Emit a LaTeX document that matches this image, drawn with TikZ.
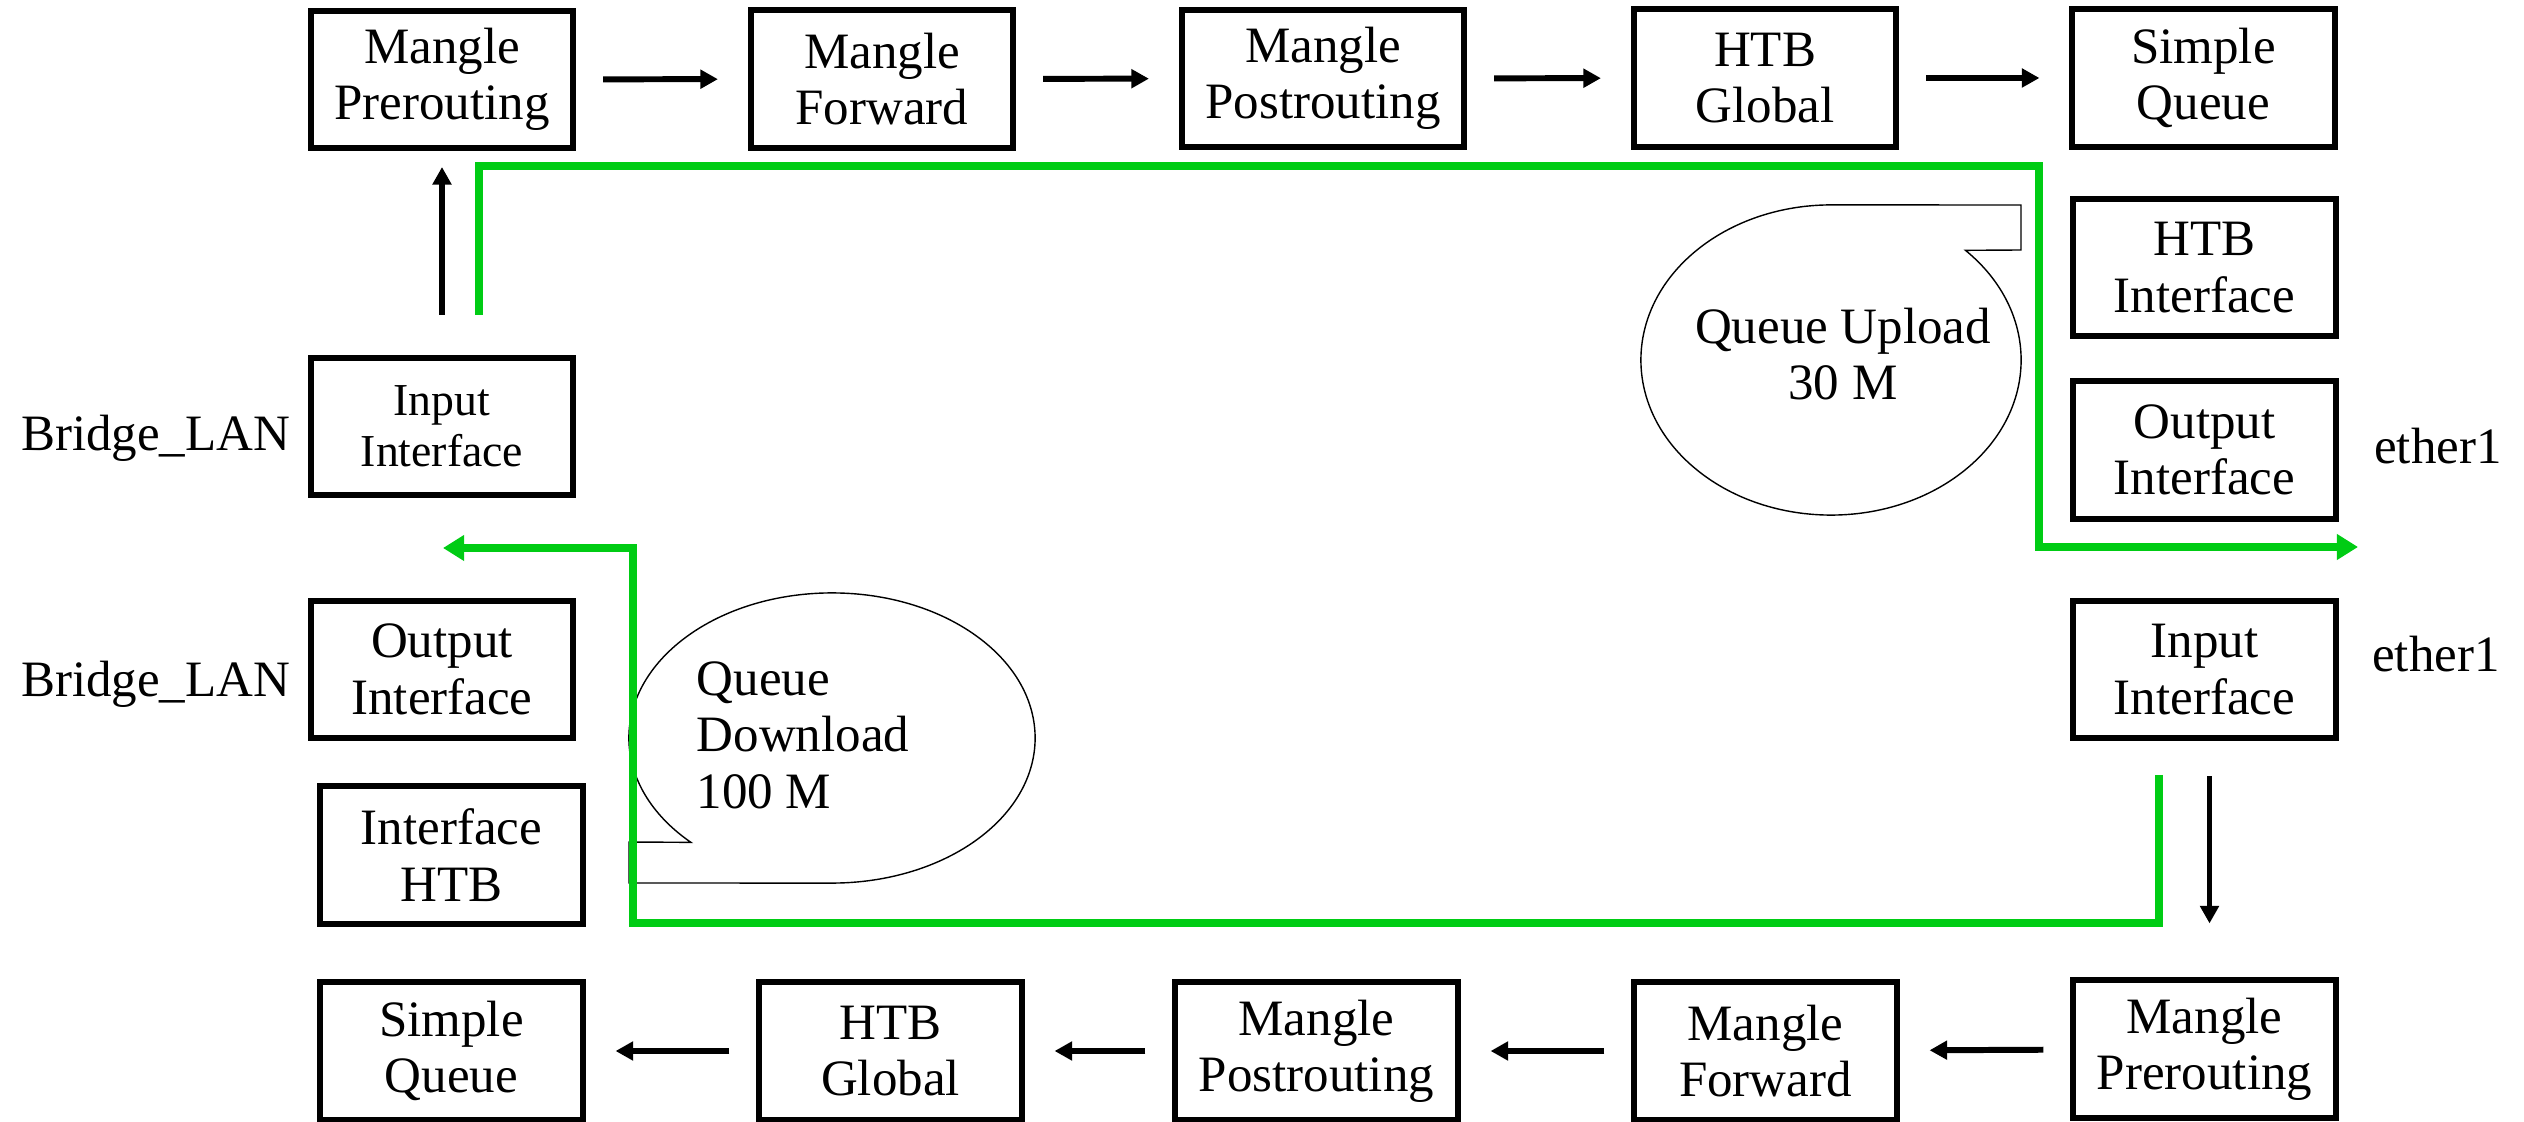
\documentclass[tikz,border=0pt]{standalone}
\usepackage{fontspec}
\setmainfont{Liberation Serif}
\usepackage{xcolor}
\usepackage{tikz}
\usetikzlibrary{arrows.meta,positioning}
\definecolor{flowGreen}{RGB}{0,204,20}

\begin{document}
\begin{tikzpicture}[x=0.01cm,y=0.01cm,font=\fontsize{14.5}{16}\selectfont,
  box/.style={draw, line width=1.7pt, align=center, minimum width=2.62cm, minimum height=1.37cm, inner sep=2pt},
  wbox/.style={box, minimum width=2.82cm},
  lbl/.style={inner sep=0pt},
  harr/.style={-{Triangle[length=5pt,width=5.2pt]}, line width=1.7pt, shorten <=0.27cm, shorten >=0.3cm},
  varr/.style={-{Triangle[length=5pt,width=5.2pt]}, line width=1.6pt},
  flow/.style={flowGreen, line width=2.3pt, -{Triangle[length=6pt,width=7pt]}},
  callout/.style={draw, line width=0.4pt}]
\useasboundingbox (0,0) rectangle (2524,-1122);
% upload chain
\node[box] (pre1) at (442,-79.5) {Mangle\\Prerouting};
\node[box] (fwd1) at (882,-79) {Mangle\\Forward};
\node[wbox] (post1) at (1323,-78.5) {Mangle\\Postrouting};
\node[box] (htbg1) at (1765,-78) {HTB\\Global};
\node[box] (sq1) at (2203.5,-78) {Simple\\Queue};
\node[box] (htbi1) at (2204.5,-267.5) {HTB\\Interface};
\node[box] (outif1) at (2204.5,-450) {Output\\Interface};
\node[box, font=\fontsize{13}{14.5}\selectfont] (inif1) at (442,-426.5) {Input\\Interface};
% download chain
\node[box] (inif2) at (2204.5,-669.5) {Input\\Interface};
\node[box] (outif2) at (442,-669.5) {Output\\Interface};
\node[box] (htbi2) at (451.5,-855) {Interface\\HTB};
\node[box] (pre2) at (2204.5,-1049) {Mangle\\Prerouting};
\node[box] (fwd2) at (1765.5,-1051) {Mangle\\Forward};
\node[wbox] (post2) at (1316.5,-1051) {Mangle\\Postrouting};
\node[box] (htbg2) at (890.5,-1051) {HTB\\Global};
\node[box] (sq2) at (451.5,-1051) {Simple\\Queue};
% interface names
\node[lbl, left=0.17cm of inif1, yshift=-0.12cm] (brin) {Bridge\_LAN};
\node[lbl, left=0.17cm of outif2, yshift=-0.15cm] (brout) {Bridge\_LAN};
\node[lbl, right=0.35cm of outif1, yshift=0.04cm] (ethout) {ether1};
\node[lbl, right=0.33cm of inif2, yshift=0.15cm] (ethin) {ether1};
% arrows
\draw[harr] (pre1) -- (fwd1);
\draw[harr] (fwd1) -- (post1);
\draw[harr] (post1) -- (htbg1);
\draw[harr] (htbg1) -- (sq1);
\draw[varr, shorten <=0.4cm, shorten >=0.16cm] (inif1) -- (pre1);
\draw[varr, shorten <=0.35cm, shorten >=0.54cm] ([xshift=0.05cm]inif2.south) -- ([xshift=0.05cm]pre2.north);
\draw[harr] (pre2) -- (fwd2);
\draw[harr] (fwd2) -- (post2);
\draw[harr] (post2) -- (htbg2);
\draw[harr] (htbg2) -- (sq2);
% queues
\draw[callout] (1831,-360) ++(45:1.9cm and 1.55cm)
  arc[start angle=45, end angle=-270, x radius=1.9cm, y radius=1.55cm]
  -- (2021,-205) -- (2021,-250) -- cycle;
\node[lbl, align=center] (upq) at (1843,-354) {Queue Upload\\30 M};
\draw[callout] (832,-738) ++(226:2.03cm and 1.45cm)
  arc[start angle=226, end angle=-90, x radius=2.03cm, y radius=1.45cm]
  -- (629,-883) -- (629,-842) -- cycle;
\node[lbl, align=left, anchor=base west] (dnq) at (696,-808) {Queue\\Download\\100 M};
% green paths
\coordinate (upS) at (479,-315);
\coordinate (upC) at (2039,-166);
\coordinate (upE) at (2358,-547);
\draw[flow] (upS) |- (upC) |- (upE);
\coordinate (dnS) at (2159,-775);
\coordinate (dnC) at (633,-923);
\coordinate (dnE) at (443,-548);
\draw[flow] (dnS) |- (dnC) |- (dnE);
\end{tikzpicture}
\end{document}
